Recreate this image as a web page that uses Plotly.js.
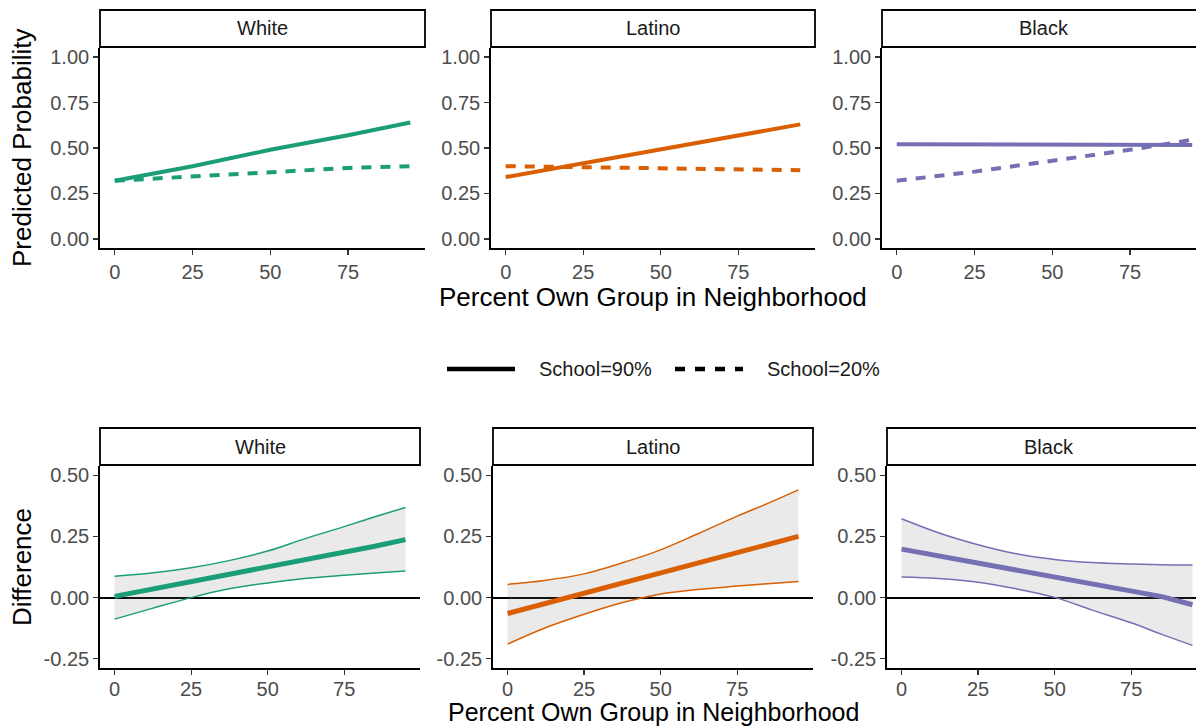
<!DOCTYPE html>
<html>
<head>
<meta charset="utf-8">
<script src="https://cdn.plot.ly/plotly-3.0.1.min.js"></script>
<style>html,body{margin:0;padding:0;background:#fff;overflow:hidden;}#chart{width:1196px;height:727px;}</style>
</head>
<body>
<div id="chart"></div>
<script>
// ---------- data ----------
const groups = ["White", "Latino", "Black"];
const groupColors = ["#1B9E77", "#D95F02", "#7570B3"];
const seriesNames = ["School=90%", "School=20%"];

// top row: predicted probability
const xTop = [0, 25, 50, 75, 95];
const whiteSchool90 = [0.32, 0.40, 0.49, 0.57, 0.64];
const whiteSchool20 = [0.32, 0.345, 0.37, 0.39, 0.40];
const latinoSchool90 = [0.34, 0.415, 0.495, 0.57, 0.63];
const latinoSchool20 = [0.40, 0.395, 0.39, 0.383, 0.378];
const blackSchool90 = [0.52, 0.52, 0.52, 0.518, 0.517];
const blackSchool20 = [0.32, 0.37, 0.43, 0.49, 0.545];

// bottom row: difference with confidence band
const xDiff = [0, 12, 25, 37, 50, 62, 75, 85, 95];
const whiteDiff = [0.005, 0.034, 0.065, 0.094, 0.125, 0.153, 0.183, 0.21, 0.237];
const whiteLower = [-0.088, -0.045, 0.0, 0.035, 0.06, 0.078, 0.091, 0.10, 0.109];
const whiteUpper = [0.087, 0.10, 0.122, 0.15, 0.19, 0.24, 0.29, 0.33, 0.368];
const latinoDiff = [-0.065, -0.025, 0.018, 0.057, 0.10, 0.14, 0.18, 0.215, 0.25];
const latinoLower = [-0.19, -0.125, -0.068, -0.022, 0.015, 0.033, 0.047, 0.057, 0.066];
const latinoUpper = [0.054, 0.07, 0.097, 0.14, 0.195, 0.26, 0.333, 0.385, 0.44];
const blackDiff = [0.198, 0.17, 0.14, 0.112, 0.085, 0.057, 0.028, 0.004, -0.029];
const blackLower = [0.084, 0.078, 0.063, 0.037, 0.001, -0.05, -0.103, -0.15, -0.195];
const blackUpper = [0.322, 0.265, 0.216, 0.18, 0.156, 0.143, 0.137, 0.134, 0.133];

const xTickVals = [0, 25, 50, 75];
const xTickText = ["0", "25", "50", "75"];
const topTickVals = [0, 0.25, 0.5, 0.75, 1];
const topTickText = ["0.00", "0.25", "0.50", "0.75", "1.00"];
const diffTickVals = [-0.25, 0, 0.25, 0.5];
const diffTickText = ["-0.25", "0.00", "0.25", "0.50"];

// ---------- build ----------
const top90 = [whiteSchool90, latinoSchool90, blackSchool90];
const top20 = [whiteSchool20, latinoSchool20, blackSchool20];
const diffs = [whiteDiff, latinoDiff, blackDiff];
const lowers = [whiteLower, latinoLower, blackLower];
const uppers = [whiteUpper, latinoUpper, blackUpper];

const W = 1196, H = 727;
const FONT = "Liberation Sans, Arial, sans-serif";
const traces = [];
const dash = "10px,9px";

for (let i = 0; i < 3; i++) {
  const xa = "x" + (i === 0 ? "" : (i + 1));
  const ya = "y" + (i === 0 ? "" : (i + 1));
  traces.push({x: xTop, y: top20[i], xaxis: xa, yaxis: ya, mode: "lines", showlegend: false,
    line: {color: groupColors[i], width: 4, dash: dash}, hoverinfo: "skip"});
  traces.push({x: xTop, y: top90[i], xaxis: xa, yaxis: ya, mode: "lines", showlegend: false,
    line: {color: groupColors[i], width: 4}, hoverinfo: "skip"});
}
for (let i = 0; i < 3; i++) {
  const xa = "x" + (i + 4);
  const ya = "y" + (i + 4);
  traces.push({x: xDiff, y: lowers[i], xaxis: xa, yaxis: ya, mode: "lines", showlegend: false,
    line: {color: groupColors[i], width: 1.5, shape: "spline"}, hoverinfo: "skip"});
  traces.push({x: xDiff, y: uppers[i], xaxis: xa, yaxis: ya, mode: "lines", showlegend: false,
    fill: "tonexty", fillcolor: "rgba(127,127,127,0.16)",
    line: {color: groupColors[i], width: 1.5, shape: "spline"}, hoverinfo: "skip"});
  traces.push({x: xDiff, y: diffs[i], xaxis: xa, yaxis: ya, mode: "lines", showlegend: false,
    line: {color: groupColors[i], width: 5}, hoverinfo: "skip"});
}

const topDom = [(H - 248) / H, (H - 48) / H];
const botDom = [(H - 668) / H, (H - 466) / H];
const topX = [[100, 425], [491, 815], [882, 1196]];
const botX = [[100, 420], [493, 813], [887, 1196]];

function axisCommon() {
  return {
    showline: true, linecolor: "#000", linewidth: 1.8, mirror: false,
    ticks: "outside", ticklen: 5, tickwidth: 1.2, tickcolor: "#333",
    showgrid: false, zeroline: false,
    tickfont: {family: FONT, size: 20, color: "#4d4d4d"}, fixedrange: true
  };
}

const layout = {
  width: W, height: H,
  margin: {l: 0, r: 0, t: 0, b: 0},
  paper_bgcolor: "#fff", plot_bgcolor: "rgba(0,0,0,0)",
  font: {family: FONT},
  showlegend: false,
  shapes: [], annotations: []
};

for (let i = 0; i < 3; i++) {
  const n = i + 1;
  const xk = "xaxis" + (n === 1 ? "" : n), yk = "yaxis" + (n === 1 ? "" : n);
  const xr = i === 2 ? [-4.75, -4.75 + (topX[i][1] - topX[i][0]) / (325 / 104.5)] : [-4.75, 99.75];
  layout[xk] = Object.assign(axisCommon(), {domain: [topX[i][0] / W, topX[i][1] / W], range: xr,
    tickvals: xTickVals, ticktext: xTickText, anchor: "y" + (n === 1 ? "" : n)});
  layout[yk] = Object.assign(axisCommon(), {domain: topDom, range: [-0.05, 1.05],
    tickvals: topTickVals, ticktext: topTickText, anchor: "x" + (n === 1 ? "" : n)});
  const m = i + 4;
  const xr2 = i === 2 ? [-4.75, -4.75 + (botX[i][1] - botX[i][0]) / (320 / 104.5)] : [-4.75, 99.75];
  layout["xaxis" + m] = Object.assign(axisCommon(), {domain: [botX[i][0] / W, botX[i][1] / W], range: xr2,
    tickvals: xTickVals, ticktext: xTickText, anchor: "y" + m, ticklabelstandoff: -3});
  layout["yaxis" + m] = Object.assign(axisCommon(), {domain: botDom, range: [-0.2875, 0.5375],
    tickvals: diffTickVals, ticktext: diffTickText, anchor: "x" + m,
    zeroline: true, zerolinecolor: "#000", zerolinewidth: 1.8});

  // strips
  const strips = [
    {xr: "x" + (n === 1 ? "" : n) + " domain", yr: "y" + (n === 1 ? "" : n) + " domain", y0: 1 + 1 / 200, y1: 1 + 38 / 200, w: 314},
    {xr: "x" + m + " domain", yr: "y" + m + " domain", y0: 1 + 1 / 202, y1: 1 + 38 / 202, w: 309}
  ];
  strips.forEach(s => {
    layout.shapes.push({type: "rect", xref: s.xr, yref: s.yr, x0: 0, x1: i === 2 ? 1.05 : 1, y0: s.y0, y1: s.y1,
      line: {color: "#000", width: 1.8}, fillcolor: "#fff", layer: "above"});
    layout.annotations.push({xref: s.xr, yref: s.yr, x: i === 2 ? 0.5 * 324 / s.w : 0.5,
      y: (s.y0 + s.y1) / 2, text: groups[i], showarrow: false,
      font: {family: FONT, size: 20, color: "#1a1a1a"}, xanchor: "center", yanchor: "middle"});
  });
}

// legend (drawn manually so the key lines match the reference length)
const legY = 1 - 369 / H;
const legItems = [
  {x0: 447, x1: 515, tx: 537, dash: "solid"},
  {x0: 675, x1: 743, tx: 765, dash: "10px,10px"}
];
legItems.forEach((it, k) => {
  layout.shapes.push({type: "line", xref: "paper", yref: "paper", x0: it.x0 / W, x1: it.x1 / W, y0: legY, y1: legY,
    line: {color: "#000", width: 4.5, dash: it.dash}});
  layout.annotations.push({xref: "paper", yref: "paper", x: it.tx / W, y: legY, text: seriesNames[k],
    showarrow: false, xanchor: "left", yanchor: "middle", font: {family: FONT, size: 20, color: "#1a1a1a"}});
});

// axis titles
const titleFont = {family: FONT, size: 26, color: "#000"};
layout.annotations.push({xref: "paper", yref: "paper", x: 22 / W, y: 1 - 148 / H, text: "Predicted Probability",
  textangle: -90, showarrow: false, font: titleFont, xanchor: "center", yanchor: "middle"});
layout.annotations.push({xref: "paper", yref: "paper", x: 22 / W, y: 1 - 567 / H, text: "Difference",
  textangle: -90, showarrow: false, font: titleFont, xanchor: "center", yanchor: "middle"});
layout.annotations.push({xref: "paper", yref: "paper", x: 653 / W, y: 1 - 297 / H, text: "Percent Own Group in Neighborhood",
  showarrow: false, font: titleFont, xanchor: "center", yanchor: "middle"});
layout.annotations.push({xref: "paper", yref: "paper", x: 653 / W, y: 0, text: "Percent Own Group in Neighborhood",
  showarrow: false, font: {family: FONT, size: 25, color: "#000"}, xanchor: "center", yanchor: "bottom", borderpad: 0});

Plotly.newPlot("chart", traces, layout, {displayModeBar: false, staticPlot: true});
</script>
</body>
</html>
